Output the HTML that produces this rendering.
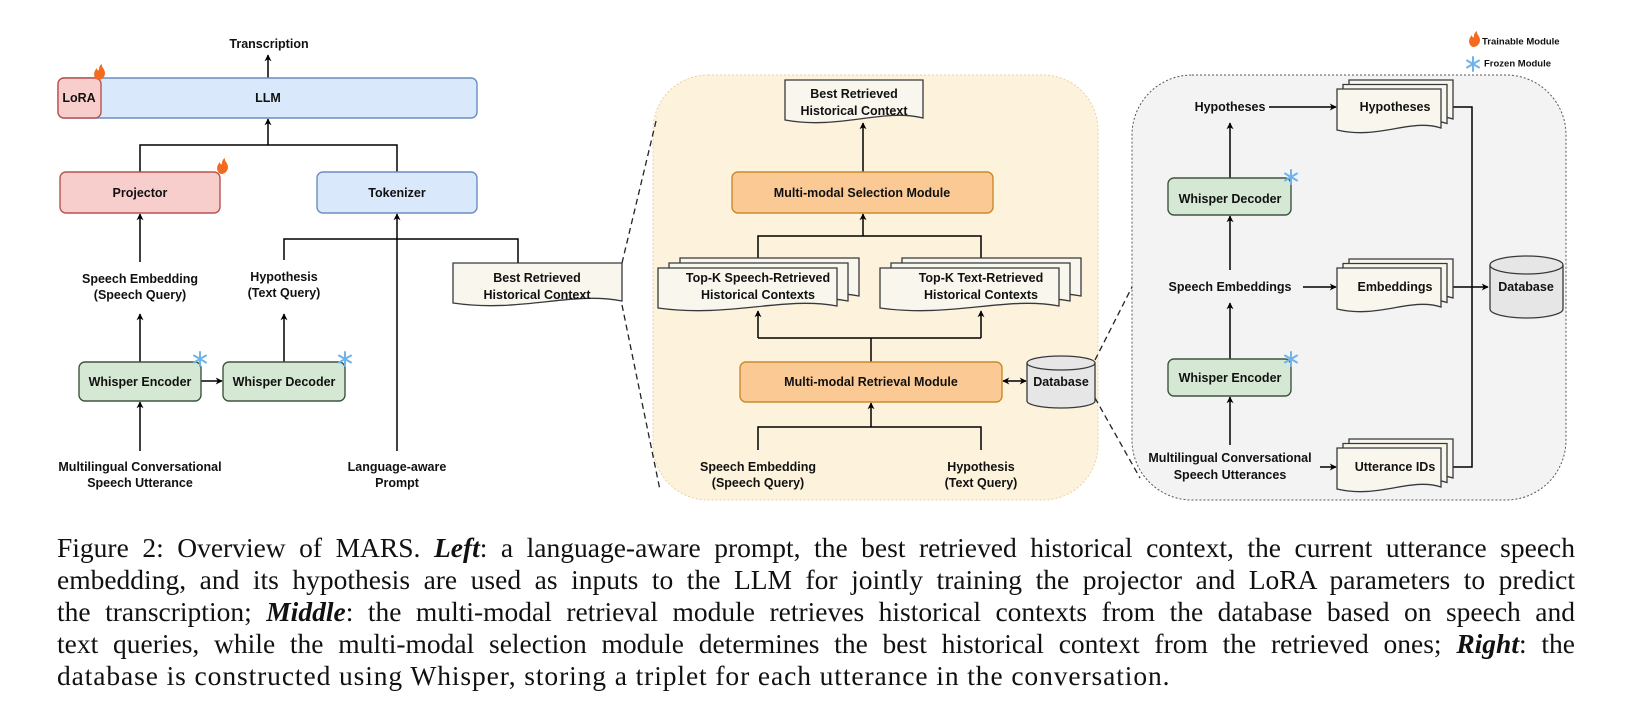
<!DOCTYPE html>
<html><head><meta charset="utf-8"><style>
html,body{margin:0;padding:0;background:#fff;}
#wrap{position:relative;width:1627px;height:726px;overflow:hidden;}
svg{position:absolute;left:0;top:0;}
svg text{font-family:"Liberation Sans",Arial,sans-serif;font-weight:bold;font-size:12.5px;fill:#111;text-anchor:middle;dominant-baseline:central;}
.cap{position:absolute;left:57px;width:1518px;font-family:"Liberation Serif","Times New Roman",serif;font-size:27.5px;line-height:32px;color:#111;text-align:justify;text-align-last:justify;white-space:nowrap;}
.cap.last{text-align-last:left;letter-spacing:0.9px;}
</style></head><body><div id="wrap">
<svg width="1627" height="520" viewBox="0 0 1627 520">
<defs>
<marker id="ar" viewBox="0 0 10 10" refX="9" refY="5" markerWidth="7" markerHeight="7" orient="auto-start-reverse" markerUnits="userSpaceOnUse">
<path d="M0,0 L10,5 L0,10 L3,5 z" fill="#000"/></marker>
</defs>
<rect x="653" y="75" width="445" height="425" rx="55" fill="#fdf3dc" stroke="#e3d3a6" stroke-dasharray="2,2"/>
<rect x="1132" y="75" width="434" height="425" rx="60" fill="#f3f3f3" stroke="#555" stroke-dasharray="2,2"/>
<g stroke="#222" stroke-width="1.3" stroke-dasharray="6,4" fill="none">
<line x1="622" y1="263" x2="657" y2="117"/><line x1="622" y1="305" x2="660" y2="490"/>
<line x1="1095" y1="360" x2="1132" y2="287"/><line x1="1095" y1="398" x2="1140" y2="478"/>
</g>
<g stroke="#000" stroke-width="1.5" fill="none">
<line x1="268" y1="78" x2="268" y2="55" marker-end="url(#ar)"/>
<line x1="268" y1="145" x2="268" y2="119" marker-end="url(#ar)"/>
<polyline points="140,172 140,145 397,145 397,172"/>
<line x1="140" y1="262" x2="140" y2="214" marker-end="url(#ar)"/>
<line x1="140" y1="362" x2="140" y2="314" marker-end="url(#ar)"/>
<line x1="140" y1="451" x2="140" y2="402" marker-end="url(#ar)"/>
<line x1="201" y1="381" x2="222" y2="381" marker-end="url(#ar)"/>
<line x1="284" y1="362" x2="284" y2="314" marker-end="url(#ar)"/>
<polyline points="284,260 284,239 518,239 518,264"/>
<line x1="397" y1="451" x2="397" y2="214" marker-end="url(#ar)"/>
<line x1="863" y1="172" x2="863" y2="123" marker-end="url(#ar)"/>
<line x1="863" y1="236" x2="863" y2="214" marker-end="url(#ar)"/>
<polyline points="758,260 758,236 981,236 981,260"/>
<line x1="871" y1="362" x2="871" y2="338"/>
<polyline points="758,338 981,338"/>
<line x1="758" y1="338" x2="758" y2="311" marker-end="url(#ar)"/>
<line x1="981" y1="338" x2="981" y2="311" marker-end="url(#ar)"/>
<line x1="871" y1="427" x2="871" y2="403" marker-end="url(#ar)"/>
<polyline points="758,450 758,427 981,427 981,450"/>
<line x1="1003" y1="381" x2="1026" y2="381" marker-start="url(#ar)" marker-end="url(#ar)"/>
<line x1="1230" y1="178" x2="1230" y2="123" marker-end="url(#ar)"/>
<line x1="1230" y1="270" x2="1230" y2="216" marker-end="url(#ar)"/>
<line x1="1230" y1="359" x2="1230" y2="303" marker-end="url(#ar)"/>
<line x1="1230" y1="445" x2="1230" y2="397" marker-end="url(#ar)"/>
<line x1="1269" y1="107" x2="1336" y2="107" marker-end="url(#ar)"/>
<line x1="1303" y1="287" x2="1336" y2="287" marker-end="url(#ar)"/>
<line x1="1320" y1="467" x2="1336" y2="467" marker-end="url(#ar)"/>
<polyline points="1453,107 1472,107 1472,467 1453,467"/>
<line x1="1453" y1="287" x2="1488" y2="287" marker-end="url(#ar)"/>
</g>
<g stroke-width="1.4">
<rect x="58" y="78" width="419" height="40" rx="6" fill="#dae8fc" stroke="#6c8ebf"/>
<rect x="58" y="78" width="43" height="40" rx="6" fill="#f8cecc" stroke="#b85450"/>
<rect x="60" y="172" width="160" height="41" rx="6" fill="#f8cecc" stroke="#b85450"/>
<rect x="317" y="172" width="160" height="41" rx="6" fill="#dae8fc" stroke="#6c8ebf"/>
<rect x="79" y="362" width="122" height="39" rx="6" fill="#d5e8d4" stroke="#3f553f"/>
<rect x="223" y="362" width="122" height="39" rx="6" fill="#d5e8d4" stroke="#3f553f"/>
<rect x="732" y="172" width="261" height="41" rx="6" fill="#fbc994" stroke="#c98a2e"/>
<rect x="740" y="362" width="262" height="40" rx="6" fill="#fbc994" stroke="#c98a2e"/>
<rect x="1168" y="178" width="123" height="37" rx="6" fill="#d5e8d4" stroke="#3f553f"/>
<rect x="1168" y="359" width="123" height="37" rx="6" fill="#d5e8d4" stroke="#3f553f"/>
</g>
<g fill="#f9f7ed" stroke="#36393d" stroke-width="1.3">
<path d="M453,263 h169 v38 c-51,-10 -101,12 -169,2 z"/>
<path d="M785,80 h138 v38 c-41,-10 -83,12 -138,2 z"/>
<path d="M680,258 h179 v38 c-54,-10 -107,12 -179,2 z"/>
<path d="M669,263 h179 v38 c-54,-10 -107,12 -179,2 z"/>
<path d="M658,268 h179 v38 c-54,-10 -107,12 -179,2 z"/>
<path d="M902,258 h179 v38 c-54,-10 -107,12 -179,2 z"/>
<path d="M891,263 h179 v38 c-54,-10 -107,12 -179,2 z"/>
<path d="M880,268 h179 v38 c-54,-10 -107,12 -179,2 z"/>
<path d="M1349,80 h104 v39 c-31,-10 -62,12 -104,2 z"/>
<path d="M1343,84.5 h104 v39 c-31,-10 -62,12 -104,2 z"/>
<path d="M1337,89 h104 v39 c-31,-10 -62,12 -104,2 z"/>
<path d="M1349,259 h104 v39 c-31,-10 -62,12 -104,2 z"/>
<path d="M1343,263.5 h104 v39 c-31,-10 -62,12 -104,2 z"/>
<path d="M1337,268 h104 v39 c-31,-10 -62,12 -104,2 z"/>
<path d="M1349,439 h104 v39 c-31,-10 -62,12 -104,2 z"/>
<path d="M1343,443.5 h104 v39 c-31,-10 -62,12 -104,2 z"/>
<path d="M1337,448 h104 v39 c-31,-10 -62,12 -104,2 z"/>
</g>
<g fill="#e6e6e6" stroke="#36393d" stroke-width="1.3">
<path d="M1027,363 v38 a34,7 0 0 0 68,0 v-38"/><ellipse cx="1061" cy="363" rx="34" ry="7"/>
<path d="M1490,265 v44 a36.5,9 0 0 0 73,0 v-44"/><ellipse cx="1526.5" cy="265" rx="36.5" ry="9"/>
</g>
<g fill="#f26b21">
<path d="M98,80 c-5,-2 -5,-8 -1,-12 c0,3 2,3 2,1 c0,-2 1,-4 3,-5 c-1,3 3,5 3,9 c0,4 -3,7 -7,7 z"/>
<path d="M221,174 c-5,-2 -5,-8 -1,-12 c0,3 2,3 2,1 c0,-2 1,-4 3,-5 c-1,3 3,5 3,9 c0,4 -3,7 -7,7 z"/>
<path d="M1473,47 c-5,-2 -5,-8 -1,-12 c0,3 2,3 2,1 c0,-2 1,-4 3,-5 c-1,3 3,5 3,9 c0,4 -3,7 -7,7 z"/>
</g>
<g stroke="#6fb3ea" stroke-width="2" stroke-linecap="round">
<path d="M200,352 v14 M194,355.5 l12,7 M194,362.5 l12,-7"/>
<path d="M345,352 v14 M339,355.5 l12,7 M339,362.5 l12,-7"/>
<path d="M1291,170 v14 M1285,173.5 l12,7 M1285,180.5 l12,-7"/>
<path d="M1291,352 v14 M1285,355.5 l12,7 M1285,362.5 l12,-7"/>
<path d="M1473,57 v14 M1467,60.5 l12,7 M1467,67.5 l12,-7"/>
</g>
<text x="269" y="44">Transcription</text>
<text x="79" y="98">LoRA</text>
<text x="268" y="98">LLM</text>
<text x="140" y="193">Projector</text>
<text x="397" y="193">Tokenizer</text>
<text x="140" y="279">Speech Embedding</text><text x="140" y="295">(Speech Query)</text>
<text x="284" y="277">Hypothesis</text><text x="284" y="293">(Text Query)</text>
<text x="537" y="278">Best Retrieved</text><text x="537" y="295">Historical Context</text>
<text x="140" y="382">Whisper Encoder</text>
<text x="284" y="382">Whisper Decoder</text>
<text x="140" y="467">Multilingual Conversational</text><text x="140" y="483">Speech Utterance</text>
<text x="397" y="467">Language-aware</text><text x="397" y="483">Prompt</text>
<text x="854" y="94">Best Retrieved</text><text x="854" y="111">Historical Context</text>
<text x="862" y="193">Multi-modal Selection Module</text>
<text x="758" y="278">Top-K Speech-Retrieved</text><text x="758" y="295">Historical Contexts</text>
<text x="981" y="278">Top-K Text-Retrieved</text><text x="981" y="295">Historical Contexts</text>
<text x="871" y="382">Multi-modal Retrieval Module</text>
<text x="1061" y="382">Database</text>
<text x="758" y="467">Speech Embedding</text><text x="758" y="483">(Speech Query)</text>
<text x="981" y="467">Hypothesis</text><text x="981" y="483">(Text Query)</text>
<text x="1230" y="107">Hypotheses</text>
<text x="1395" y="107">Hypotheses</text>
<text x="1230" y="199">Whisper Decoder</text>
<text x="1230" y="287">Speech Embeddings</text>
<text x="1395" y="287">Embeddings</text>
<text x="1526" y="287">Database</text>
<text x="1230" y="378">Whisper Encoder</text>
<text x="1230" y="458">Multilingual Conversational</text><text x="1230" y="475">Speech Utterances</text>
<text x="1395" y="467">Utterance IDs</text>
<text x="1482" y="42" style="font-size:9.5px;text-anchor:start">Trainable Module</text>
<text x="1484" y="64" style="font-size:9.5px;text-anchor:start">Frozen Module</text>
</svg>
<div class="cap" style="top:532px">Figure 2: Overview of MARS. <b><i>Left</i></b>: a language-aware prompt, the best retrieved historical context, the current utterance speech</div>
<div class="cap" style="top:564px">embedding, and its hypothesis are used as inputs to the LLM for jointly training the projector and LoRA parameters to predict</div>
<div class="cap" style="top:596px">the transcription; <b><i>Middle</i></b>: the multi-modal retrieval module retrieves historical contexts from the database based on speech and</div>
<div class="cap" style="top:628px">text queries, while the multi-modal selection module determines the best historical context from the retrieved ones; <b><i>Right</i></b>: the</div>
<div class="cap last" style="top:660px">database is constructed using Whisper, storing a triplet for each utterance in the conversation.</div>
</div></body></html>
